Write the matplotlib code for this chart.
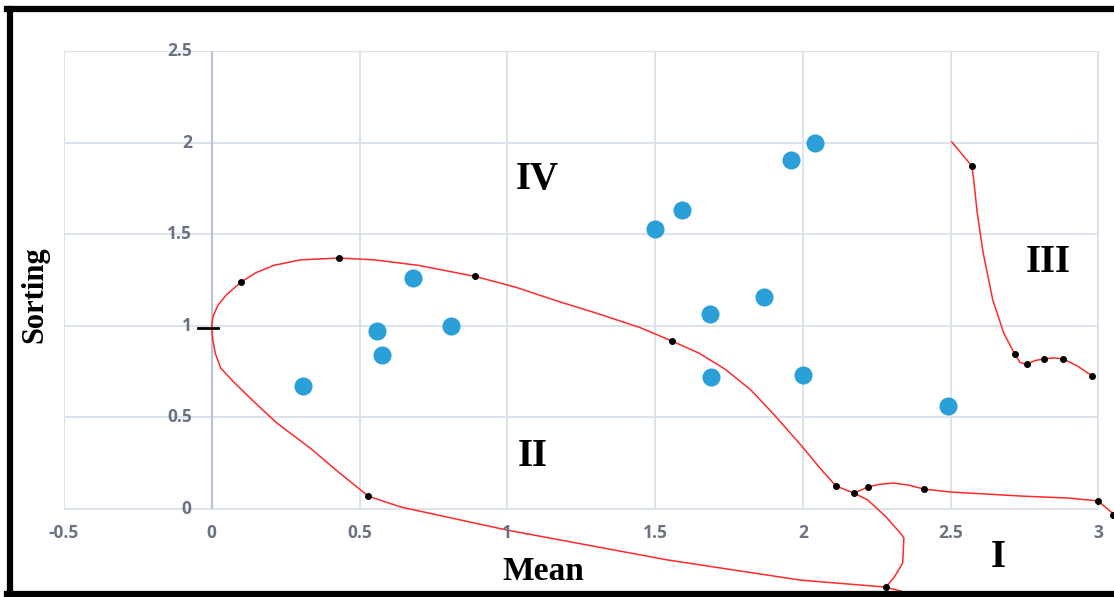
import matplotlib
matplotlib.use("Agg")
import matplotlib.pyplot as plt
from matplotlib.lines import Line2D

# sample points (Mean, Sorting)
mean = [0.31, 0.56, 0.575, 0.68, 0.81, 1.50, 1.59, 1.685, 1.69, 1.87, 1.96, 2.04, 2.00, 2.49]
sorting = [0.67, 0.97, 0.84, 1.26, 1.00, 1.53, 1.63, 1.065, 0.72, 1.16, 1.905, 2.00, 0.73, 0.56]

# field boundaries (hand traced)
upper_x = [0.0, 0.004, 0.02, 0.05, 0.10, 0.15, 0.21, 0.30, 0.43, 0.55, 0.70, 0.89, 1.03, 1.16,
           1.30, 1.45, 1.557, 1.65, 1.74, 1.824, 1.90, 1.993, 2.06, 2.112, 2.173, 2.22, 2.28,
           2.33, 2.342, 2.338, 2.31, 2.281]
upper_y = [1.0, 1.05, 1.11, 1.17, 1.24, 1.29, 1.33, 1.36, 1.37, 1.36, 1.33, 1.27, 1.21, 1.14,
           1.07, 0.99, 0.917, 0.85, 0.76, 0.65, 0.52, 0.35, 0.22, 0.126, 0.087, 0.049, -0.04,
           -0.131, -0.158, -0.295, -0.37, -0.426]
lower_x = [0.0, 0.003, 0.012, 0.03, 0.07, 0.14, 0.22, 0.335, 0.43, 0.53, 0.64, 1.0, 1.543, 1.993,
           2.281, 2.36]
lower_y = [1.0, 0.93, 0.85, 0.77, 0.70, 0.59, 0.47, 0.33, 0.20, 0.07, 0.011, -0.115, -0.278,
           -0.388, -0.426, -0.46]
field1_x = [2.173, 2.22, 2.26, 2.308, 2.36, 2.41, 2.5, 2.75, 2.9, 3.0, 3.06]
field1_y = [0.087, 0.12, 0.135, 0.142, 0.13, 0.109, 0.093, 0.07, 0.06, 0.044, -0.04]
field3_x = [2.504, 2.572, 2.578, 2.59, 2.61, 2.643, 2.68, 2.717, 2.735, 2.757, 2.785, 2.816,
            2.85, 2.88, 2.93, 2.98]
field3_y = [2.004, 1.872, 1.80, 1.62, 1.40, 1.14, 0.96, 0.846, 0.80, 0.79, 0.81, 0.82,
            0.825, 0.82, 0.78, 0.726]

# black control points on the boundaries
dot_x = [0.10, 0.43, 0.89, 1.557, 2.112, 2.173, 0.53, 2.281, 2.22, 2.41, 3.0, 3.05,
         2.572, 2.717, 2.757, 2.816, 2.88, 2.98]
dot_y = [1.24, 1.37, 1.27, 0.917, 0.126, 0.087, 0.07, -0.426, 0.12, 0.109, 0.044, -0.033,
         1.872, 0.846, 0.79, 0.82, 0.82, 0.726]

field_names = ["IV", "II", "III", "I"]
field_pos = [(1.103, 1.796), (1.086, 0.289), (2.832, 1.348), (2.66, -0.267)]

xticks = [-0.5, 0, 0.5, 1, 1.5, 2, 2.5, 3]
yticks = [0, 0.5, 1, 1.5, 2, 2.5]

W, H = 1114, 597
fig = plt.figure(figsize=(W / 100, H / 100), dpi=100)
ax = fig.add_axes([64 / W, 0, 1050 / W, (H - 51) / H])
ax.set_xlim(-0.5, 3.053)
ax.set_ylim(-0.48, 2.5)
ax.axis("off")

grid_c = "#dde3ea"
ax.hlines(yticks, xticks[0], xticks[-1], color=grid_c, lw=1.4, zorder=0)
ax.vlines(xticks, yticks[0], yticks[-1], color=grid_c, lw=1.4, zorder=0)
ax.vlines(0, yticks[0], yticks[-1], color="#b9c3d3", lw=1.6, zorder=0)

tick_c = "#6b7383"
for t in xticks:
    ax.text(t, -0.131, f"{t:g}", ha="center", va="center", fontsize=12.5,
            family="Open Sans", weight="bold", color=tick_c)
for t in yticks:
    ax.text(-0.068, t, f"{t:g}", ha="right", va="center", fontsize=12.5,
            family="Open Sans", weight="bold", color=tick_c)

red = "#ff2a2a"
for xs, ys in [(upper_x, upper_y), (lower_x, lower_y), (field1_x, field1_y), (field3_x, field3_y)]:
    ax.plot(xs, ys, color=red, lw=1.1, zorder=2)
ax.plot([-0.045, 0.02], [0.99, 0.99], color="black", lw=2.0, zorder=3)
ax.scatter(dot_x, dot_y, s=16, color="black", zorder=3)

ax.scatter(mean, sorting, s=170, color="#2a9fd8", zorder=4, linewidths=0)

for name, (x, y) in zip(field_names, field_pos):
    ax.text(x, y, name, ha="center", va="center", fontsize=28, weight="bold",
            family="Liberation Serif", color="black")

fig.text(35 / W, 1 - 295 / H, "Sorting", rotation=90, ha="center", va="center",
         fontsize=22, weight="bold", family="Liberation Serif")
fig.text(543 / W, 1 - 572 / H, "Mean", ha="center", va="center",
         fontsize=24, weight="bold", family="Liberation Serif")

# black frame round the picture (no right side)
frame = [((10 / W, 10 / W), (1 - 9 / H, 5 / H)),
         ((7 / W, 1), (1 - 9 / H, 1 - 9 / H)),
         ((7 / W, 1), (3 / H, 3 / H))]
for xs, ys in frame:
    fig.add_artist(Line2D(xs, ys, color="black", lw=4.5, transform=fig.transFigure, zorder=10))

fig.savefig("out.png", dpi=100)
